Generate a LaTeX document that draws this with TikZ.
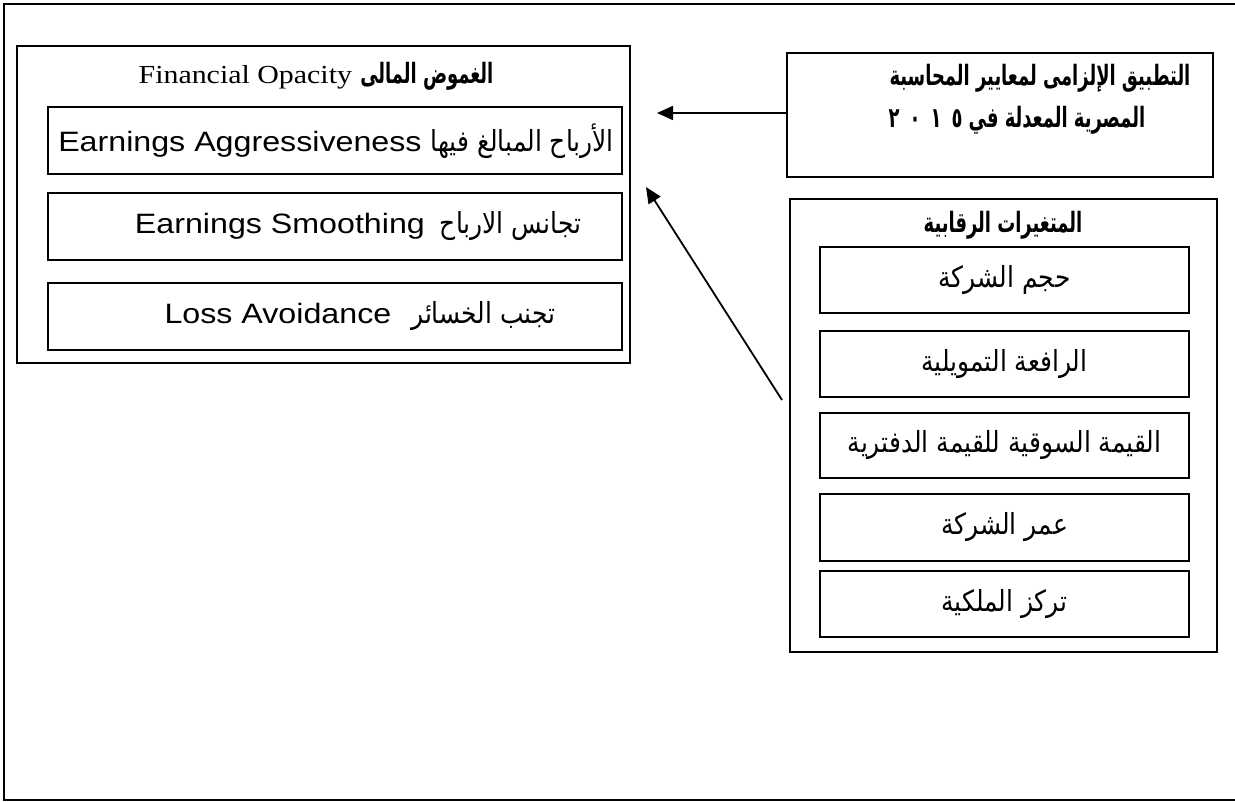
\documentclass[tikz,border=0pt]{standalone}
\usepackage{fontspec}
\usetikzlibrary{arrows.meta}
\TeXXeTstate=1
\setmainfont{Liberation Sans}[FakeStretch=1.15]
\newfontfamily\tnr{Liberation Serif}[FakeStretch=1.15]
\newfontfamily\arR[Script=Arabic,FakeStretch=0.86]{DejaVu Sans}
\newfontfamily\arB[Script=Arabic,FakeStretch=0.64]{DejaVu Sans}
\newcommand{\ar}[1]{{\arR\fontsize{29}{34}\selectfont\beginR #1\endR}}
\newcommand{\arb}[1]{{\arB\bfseries\fontsize{28}{32}\selectfont\beginR #1\endR}}
\tikzset{
  box/.style={draw=black, line width=1.8pt, rectangle, inner sep=0pt},
  txt/.style={inner sep=0pt, font=\fontsize{28}{32}\selectfont},
  hdr/.style={inner sep=0pt, font=\fontsize{26}{30}\selectfont},
  link/.style={line width=1.8pt, -{Triangle[length=16pt,width=14pt]}}
}
\begin{document}
\begin{tikzpicture}[x=1pt,y=-1pt]
\useasboundingbox (0,0) rectangle (1235,802);
% outer frame (open on the right)
\draw[line width=2.4pt] (1240,4) -- (4,4) -- (4,800) -- (1240,800);

% Financial opacity block
\node[box, minimum width=613pt, minimum height=317pt] (fo) at (323.5,204.5) {};
\node[hdr] (fot) at (316,76) {{\tnr Financial Opacity} \arb{الغموض المالى}};
\node[box, minimum width=574pt, minimum height=67pt] (ea) at (335,140.5) {};
\node[txt] (eat) at (336,141) {Earnings Aggressiveness \ar{الأرباح المبالغ فيها}};
\node[box, minimum width=574pt, minimum height=67pt] (es) at (335,226.5) {};
\node[txt] (est) at (358,226) {Earnings Smoothing\hspace{15pt}\ar{تجانس الارباح}};
\node[box, minimum width=574pt, minimum height=67pt] (la) at (335,316.5) {};
\node[txt] (lat) at (360,316) {Loss Avoidance\hspace{20pt}\ar{تجنب الخسائر}};

% Mandatory application block
\node[box, minimum width=426pt, minimum height=124pt] (ma) at (1000,115) {};
\node[inner sep=0pt] (ma1) at (1040,78) {\arb{التطبيق الإلزامى لمعايير المحاسبة}};
\node[inner sep=0pt] (ma2) at (1017,120) {\arb{المصرية المعدلة في \beginL ٢\hspace{10pt}٠\hspace{10pt}١\hspace{10pt}٥\endL}};

% Control variables block
\node[box, minimum width=427pt, minimum height=453pt] (cv) at (1003.5,425.5) {};
\node[inner sep=0pt] (cvt) at (1003,225) {\arb{المتغيرات الرقابية}};
\node[box, minimum width=369pt, minimum height=66pt] (c1) at (1004.5,280) {};
\node[inner sep=0pt] at (c1) {\ar{حجم الشركة}};
\node[box, minimum width=369pt, minimum height=66pt] (c2) at (1004.5,364) {};
\node[inner sep=0pt] at (c2) {\ar{الرافعة التمويلية}};
\node[box, minimum width=369pt, minimum height=65pt] (c3) at (1004.5,445.5) {};
\node[inner sep=0pt] at (c3) {\ar{القيمة السوقية للقيمة الدفترية}};
\node[box, minimum width=369pt, minimum height=67pt] (c4) at (1004.5,527.5) {};
\node[inner sep=0pt] at (c4) {\ar{عمر الشركة}};
\node[box, minimum width=369pt, minimum height=66pt] (c5) at (1004.5,604) {};
\node[inner sep=0pt] at (c5) {\ar{تركز الملكية}};

% connectors
\coordinate (h1) at (657,113);
\coordinate (d0) at (782,400);
\coordinate (d1) at (646,187);
\draw[link] (ma.west |- h1) -- (h1);
\draw[link] (d0) -- (d1);
\end{tikzpicture}
\end{document}
